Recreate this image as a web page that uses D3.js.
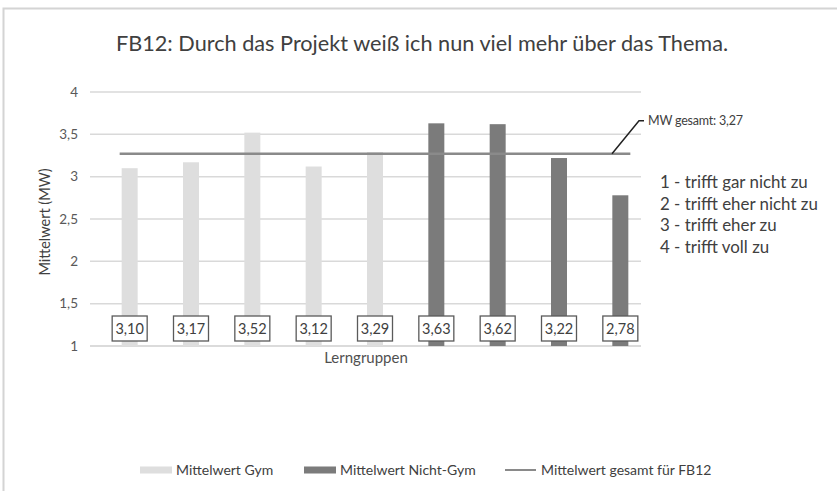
<!DOCTYPE html>
<html>
<head>
<meta charset="utf-8">
<script src="https://cdn.jsdelivr.net/npm/d3@7"></script>
<style>
  html, body { margin: 0; padding: 0; background: #fff; }
  svg { display: block; font-family: Lato, "Open Sans", sans-serif; }
</style>
</head>
<body>
<svg id="chart" width="837" height="491"></svg>
<script>
// Learning groups: first five are Gymnasium, remaining four are other school types
const groups = ["G1", "G2", "G3", "G4", "G5", "N1", "N2", "N3", "N4"];
const groupType = ["gym", "gym", "gym", "gym", "gym", "nicht", "nicht", "nicht", "nicht"];
const means = [3.10, 3.17, 3.52, 3.12, 3.29, 3.63, 3.62, 3.22, 2.78];
const overallMean = 3.27;
const yTicks = [1, 1.5, 2, 2.5, 3, 3.5, 4];
const scaleNotes = [
  "1 - trifft gar nicht zu",
  "2 - trifft eher nicht zu",
  "3 - trifft eher zu",
  "4 - trifft voll zu"
];
const legendItems = [
  { key: "gym", label: "Mittelwert Gym" },
  { key: "nicht", label: "Mittelwert Nicht-Gym" },
  { key: "line", label: "Mittelwert gesamt für FB12" }
];

const colors = { gym: "#dedede", nicht: "#7b7b7b", line: "#8a8a8a" };
const fmt = v => d3.format(".2f")(v).replace(".", ",");
const fmtTick = v => String(v).replace(".", ",");

const svg = d3.select("#chart");

// outer frame of the chart area
svg.append("path")
  .attr("d", "M3.5,491 L3.5,8.5 L837,8.5")
  .attr("fill", "none").attr("stroke", "#d4d4d4").attr("stroke-width", 2);

const gridX0 = 90, gridX1 = 641;
const x = d3.scaleBand().domain(groups).range([99, 651]).paddingInner(0).paddingOuter(0);
const y = d3.scaleLinear().domain([1, 4]).range([346, 92]);
const barW = 16;

// title
svg.append("text")
  .attr("x", 422).attr("y", 51)
  .attr("text-anchor", "middle")
  .attr("font-size", 21.7)
  .attr("fill", "#404040")
  .text("FB12: Durch das Projekt weiß ich nun viel mehr über das Thema.");

// gridlines and y tick labels
const yAxis = d3.axisLeft(y).tickValues(yTicks).tickFormat(fmtTick).tickSize(0).tickPadding(0);
const gy = svg.append("g").attr("transform", `translate(${gridX0 - 12},0)`).call(yAxis);
gy.select(".domain").remove();
gy.selectAll("text").attr("font-size", 13.5).attr("fill", "#595959").attr("font-family", "Lato, sans-serif");

svg.append("g").selectAll("line").data(yTicks).join("line")
  .attr("x1", gridX0).attr("x2", gridX1)
  .attr("y1", d => y(d)).attr("y2", d => y(d))
  .attr("stroke", d => d === 1 ? "#cfcfcf" : "#d9d9d9")
  .attr("stroke-width", 1.5);

// y axis title
svg.append("text")
  .attr("transform", `translate(50,${(y(1) + y(4)) / 2 + 3}) rotate(-90)`)
  .attr("text-anchor", "middle")
  .attr("font-size", 14.5)
  .attr("fill", "#404040")
  .text("Mittelwert (MW)");

// bars
svg.append("g").selectAll("rect").data(means).join("rect")
  .attr("x", (d, i) => x(groups[i]) + x.bandwidth() / 2 - barW / 2)
  .attr("width", barW)
  .attr("y", d => y(d))
  .attr("height", d => y(1) - y(d))
  .attr("fill", (d, i) => colors[groupType[i]]);

// overall mean line
const lineX0 = x(groups[0]) + x.bandwidth() / 2 - barW / 2 - 2;
const lineX1 = x(groups[groups.length - 1]) + x.bandwidth() / 2 + barW / 2 + 2;
svg.append("line")
  .attr("x1", lineX0).attr("x2", lineX1)
  .attr("y1", y(overallMean)).attr("y2", y(overallMean))
  .attr("stroke", colors.line).attr("stroke-width", 2.5);

// callout for the overall mean
const calloutY = y(overallMean);
svg.append("path")
  .attr("d", `M612,${calloutY} L639,${calloutY - 33} L644,${calloutY - 33}`)
  .attr("fill", "none").attr("stroke", "#222").attr("stroke-width", 1.5);
svg.append("text")
  .attr("x", 648).attr("y", calloutY - 29)
  .attr("font-size", 12.5).attr("fill", "#404040")
  .attr("letter-spacing", -0.2)
  .text("MW gesamt: " + fmt(overallMean));

// value boxes near the bottom of each bar
const boxW = 35, boxH = 25, boxCY = 328.5;
const labels = svg.append("g").selectAll("g").data(means).join("g")
  .attr("transform", (d, i) => `translate(${x(groups[i]) + x.bandwidth() / 2},${boxCY})`);
labels.append("rect")
  .attr("x", -boxW / 2).attr("y", -boxH / 2)
  .attr("width", boxW).attr("height", boxH)
  .attr("fill", "#fff").attr("stroke", "#5a5a5a").attr("stroke-width", 1.3);
labels.append("text")
  .attr("text-anchor", "middle").attr("dy", "0.36em")
  .attr("font-size", 14.5).attr("fill", "#404040")
  .text(d => fmt(d));

// x axis title
svg.append("text")
  .attr("x", 366).attr("y", 363)
  .attr("text-anchor", "middle")
  .attr("font-size", 15).attr("fill", "#505050")
  .text("Lerngruppen");

// scale explanation
svg.append("g").selectAll("text").data(scaleNotes).join("text")
  .attr("x", 660).attr("y", (d, i) => 188 + i * 21.7)
  .attr("font-size", 16.9).attr("fill", "#404040")
  .text(d => d);

// legend
const legendX = [140, 304, 505];
const legendY = 470;
const lg = svg.append("g").selectAll("g").data(legendItems).join("g")
  .attr("transform", (d, i) => `translate(${legendX[i]},${legendY})`);
lg.filter(d => d.key !== "line").append("rect")
  .attr("x", 0).attr("y", -3.5).attr("width", 32).attr("height", 7)
  .attr("fill", d => colors[d.key]);
lg.filter(d => d.key === "line").append("line")
  .attr("x1", 0).attr("x2", 31).attr("y1", 0).attr("y2", 0)
  .attr("stroke", colors.line).attr("stroke-width", 2);
lg.append("text")
  .attr("x", 36).attr("dy", "0.36em")
  .attr("font-size", 14).attr("fill", "#404040")
  .text(d => d.label);
</script>
</body>
</html>
